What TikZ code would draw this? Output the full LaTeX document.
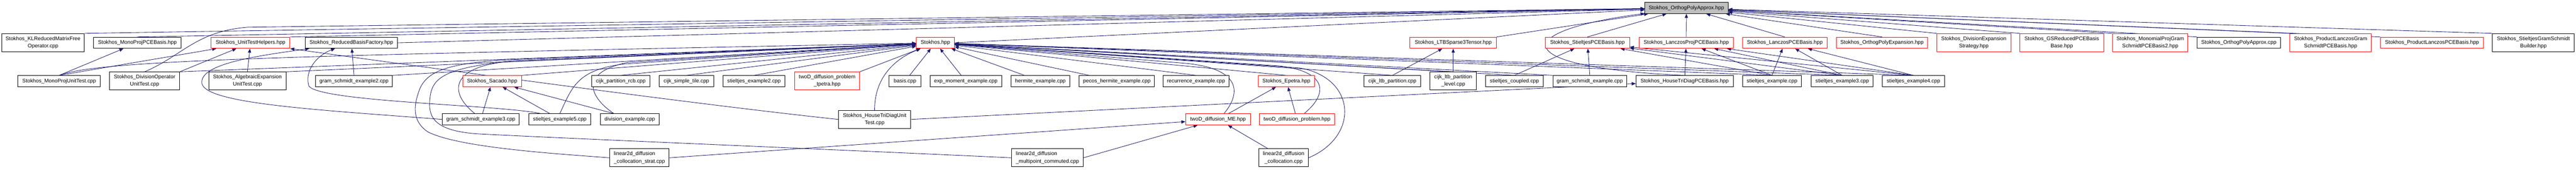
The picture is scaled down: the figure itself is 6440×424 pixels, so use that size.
\documentclass[tikz,border=0pt]{standalone}
\usepackage{fontspec}
\setmainfont{Liberation Sans}
\usetikzlibrary{arrows.meta,backgrounds}
\definecolor{edgeblue}{HTML}{191970}
\tikzstyle{srcfile}=[draw=black, fill=white, line width=1.2pt, inner sep=0pt, minimum height=28pt, align=center, font=\fontsize{13.2}{18.3}\selectfont]
\tikzstyle{hdrfile}=[srcfile, draw=red]
\tikzstyle{mainfile}=[srcfile, fill=black!25]
\tikzstyle{twoline}=[minimum height=45pt]
\tikzstyle{incl}=[draw=edgeblue, line width=1.1pt]
\tikzstyle{every edge}=[incl]

\begin{document}
\begin{tikzpicture}[->, >={Triangle[length=10pt,width=8pt]}, x=1pt, y=-1pt]
  \useasboundingbox (0,0) rectangle (6440,424);

  \node[mainfile, minimum width=208] (opa) at (4216,20) {Stokhos\_OrthogPolyApprox.hpp};

  % headers and sources that include it
  \node[srcfile, twoline, minimum width=207] (klop) at (107.5,106.5) {Stokhos\_KLReducedMatrixFree\\Operator.cpp};
  \node[srcfile, minimum width=219] (mppce) at (343.5,107) {Stokhos\_MonoProjPCEBasis.hpp};
  \node[hdrfile, minimum width=197] (uth) at (626.5,107) {Stokhos\_UnitTestHelpers.hpp};
  \node[srcfile, minimum width=231] (rbf) at (878.5,107) {Stokhos\_ReducedBasisFactory.hpp};
  \node[hdrfile, minimum width=95] (stokhos) at (2338.5,107) {Stokhos.hpp};
  \node[hdrfile, minimum width=216] (ltb) at (3633,107) {Stokhos\_LTBSparse3Tensor.hpp};
  \node[hdrfile, minimum width=211] (stpce) at (3968.5,107) {Stokhos\_StieltjesPCEBasis.hpp};
  \node[hdrfile, minimum width=235] (lpp) at (4215.5,107) {Stokhos\_LanczosProjPCEBasis.hpp};
  \node[hdrfile, minimum width=212] (lpce) at (4462,107) {Stokhos\_LanczosPCEBasis.hpp};
  \node[hdrfile, minimum width=228] (ope) at (4705,107) {Stokhos\_OrthogPolyExpansion.hpp};
  \node[hdrfile, twoline, minimum width=185] (des) at (4934.5,106.5) {Stokhos\_DivisionExpansion\\Strategy.hpp};
  \node[hdrfile, twoline, minimum width=209] (gsr) at (5154.5,106.5) {Stokhos\_GSReducedPCEBasis\\Base.hpp};
  \node[hdrfile, twoline, minimum width=189] (mpgs) at (5375.5,106.5) {Stokhos\_MonomialProjGram\\SchmidtPCEBasis2.hpp};
  \node[srcfile, minimum width=208] (opacpp) at (5597,107) {Stokhos\_OrthogPolyApprox.cpp};
  \node[hdrfile, twoline, minimum width=203] (plgs) at (5826.5,106.5) {Stokhos\_ProductLanczosGram\\SchmidtPCEBasis.hpp};
  \node[hdrfile, minimum width=258] (plpce) at (6080,107) {Stokhos\_ProductLanczosPCEBasis.hpp};
  \node[srcfile, twoline, minimum width=205] (sgsb) at (6333.5,106.5) {Stokhos\_StieltjesGramSchmidt\\Builder.hpp};

  % third row
  \node[srcfile, minimum width=206] (mput) at (148,203) {Stokhos\_MonoProjUnitTest.cpp};
  \node[srcfile, twoline, minimum width=175] (divut) at (361.5,202.5) {Stokhos\_DivisionOperator\\UnitTest.cpp};
  \node[srcfile, twoline, minimum width=193] (algut) at (618.5,202.5) {Stokhos\_AlgebraicExpansion\\UnitTest.cpp};
  \node[srcfile, minimum width=192] (gse2) at (885,203) {gram\_schmidt\_example2.cpp};
  \node[hdrfile, minimum width=147] (sacado) at (1230.5,203) {Stokhos\_Sacado.hpp};
  \node[srcfile, minimum width=146] (cprcb) at (1552,203) {cijk\_partition\_rcb.cpp};
  \node[srcfile, minimum width=136] (cst) at (1716,203) {cijk\_simple\_tile.cpp};
  \node[srcfile, minimum width=154] (se2) at (1885,203) {stieltjes\_example2.cpp};
  \node[hdrfile, twoline, minimum width=162] (tdpt) at (2068,202.5) {twoD\_diffusion\_problem\\\_tpetra.hpp};
  \node[srcfile, minimum width=79] (basis) at (2262.5,203) {basis.cpp};
  \node[srcfile, minimum width=179] (expm) at (2414.5,203) {exp\_moment\_example.cpp};
  \node[srcfile, minimum width=146] (herm) at (2601,203) {hermite\_example.cpp};
  \node[srcfile, minimum width=188] (pecos) at (2792,203) {pecos\_hermite\_example.cpp};
  \node[srcfile, minimum width=164] (recur) at (2990,203) {recurrence\_example.cpp};
  \node[hdrfile, minimum width=140] (epetra) at (3216,203) {Stokhos\_Epetra.hpp};
  \node[srcfile, minimum width=142] (cltb) at (3481,203) {cijk\_ltb\_partition.cpp};
  \node[srcfile, twoline, minimum width=116] (cltbl) at (3633,202.5) {cijk\_ltb\_partition\\\_level.cpp};
  \node[srcfile, minimum width=144] (scoup) at (3786,203) {stieltjes\_coupled.cpp};
  \node[srcfile, minimum width=185] (gse) at (3974.5,203) {gram\_schmidt\_example.cpp};
  \node[srcfile, minimum width=243] (htpce) at (4211.5,203) {Stokhos\_HouseTriDiagPCEBasis.hpp};
  \node[srcfile, minimum width=148] (se1) at (4430,203) {stieltjes\_example.cpp};
  \node[srcfile, minimum width=155] (se3) at (4605.5,203) {stieltjes\_example3.cpp};
  \node[srcfile, minimum width=155] (se4) at (4783.5,203) {stieltjes\_example4.cpp};

  % fourth row
  \node[srcfile, minimum width=192] (gse3) at (1202,298.5) {gram\_schmidt\_example3.cpp};
  \node[srcfile, minimum width=155] (se5) at (1399.5,298.5) {stieltjes\_example5.cpp};
  \node[srcfile, minimum width=147] (divex) at (1574.5,298.5) {division\_example.cpp};
  \node[srcfile, twoline, minimum width=181] (htut) at (2186.5,298.5) {Stokhos\_HouseTriDiagUnit\\Test.cpp};
  \node[hdrfile, minimum width=162] (tdme) at (3045,298.5) {twoD\_diffusion\_ME.hpp};
  \node[hdrfile, minimum width=187] (tdprob) at (3242.5,298.5) {twoD\_diffusion\_problem.hpp};

  % bottom row
  \node[srcfile, twoline, minimum width=149, align=left] (l2cs) at (1598.5,394.5) {linear2d\_diffusion\\\_collocation\_strat.cpp};
  \node[srcfile, twoline, minimum width=179, align=left] (l2mc) at (2618.5,394.5) {linear2d\_diffusion\\\_multipoint\_commuted.cpp};
  \node[srcfile, twoline, minimum width=124] (l2c) at (3209,394.5) {linear2d\_diffusion\\\_collocation.cpp};

  \begin{scope}[on background layer]
    % into Stokhos_OrthogPolyApprox.hpp
    \path (klop.north east) edge (opa);
    \path (mppce.north) edge (opa);
    \path (uth.north east) edge (opa);
    \path (rbf.east) edge (opa);
    \path (stokhos.east) edge (opa);
    \path (ltb.north east) edge (opa);
    \path (stpce.north) edge (opa);
    \path (lpp) edge (opa);
    \path (lpce.north) edge (opa);
    \path (ope.north) edge (opa);
    \path (des.north west) edge (opa);
    \path (gsr.north west) edge (opa);
    \path (mpgs.north west) edge (opa);
    \path (opacpp.north west) edge (opa);
    \path (plgs.north west) edge (opa);
    \path (plpce.north west) edge (opa);
    \path (sgsb.north west) edge (opa);
    \draw[incl] (divut.north) .. controls (455,140) and (490,78) .. (620,68) -- (opa);
    \draw[incl] (htpce.north) .. controls (3780,170) and (3760,80) .. (opa);

    % unit tests
    \path (mput.north) edge (mppce) edge (uth);
    \draw[incl] (mput.north) .. controls (250,150) and (700,140) .. (stokhos);
    \path (divut.north east) edge (uth) edge (stokhos);
    \path (algut.north) edge (uth);
    \path (algut.north east) edge (stokhos);
    \draw[incl] (htut.west) .. controls (1750,262) and (1150,180) .. (uth.south east);
    \draw[incl] (htut.north) .. controls (2186,200) and (2230,150) .. (stokhos);
    \path (htut.east) edge (htpce);

    % examples on the left
    \path (gse2.north) edge (rbf);
    \path (gse2.north east) edge (stokhos);
    \path (sacado.north east) edge (stokhos);
    \path (gse3) edge (sacado);
    \draw[incl] (gse3.west) .. controls (800,275) and (520,260) .. (505,210) .. controls (495,160) and (640,140) .. (rbf);
    \draw[incl] ([xshift=-15]gse3.north) .. controls (1120,230) and (1130,170) .. (1260,155) -- (stokhos);
    \path ([xshift=-25]se5.north) edge (sacado);
    \draw[incl] ([xshift=-48]se5.north) .. controls (1250,262) and (800,255) .. (772,215) .. controls (760,170) and (800,135) .. (rbf);
    \draw[incl] (se5.north) .. controls (1430,220) and (1440,175) .. (1560,160) -- (stokhos);
    \path ([xshift=-40]divex.north) edge (sacado);
    \draw[incl] ([xshift=-40]divex.north) .. controls (1470,240) and (1450,180) .. (1570,156) -- (stokhos);
    \path (cprcb.north) edge (stokhos);
    \path (cst.north) edge (stokhos);
    \path (se2.north) edge (stokhos);
    \path (tdpt.north east) edge (stokhos);
    \path (basis) edge (stokhos);
    \path (expm) edge (stokhos);
    \path (herm) edge (stokhos);
    \path (pecos) edge (stokhos);

    % linear2d drivers
    \draw[incl] (l2cs.west) .. controls (1400,385) and (1150,370) .. (1070,330) .. controls (1040,310) and (1030,280) .. (1045,235) .. controls (1060,180) and (1110,160) .. (1260,150) -- (stokhos);
    \path (l2cs.east) edge (tdme);
    \draw[incl] (l2mc.west) .. controls (2000,370) and (1500,350) .. (1200,335) .. controls (1080,328) and (1070,290) .. (1075,245) .. controls (1080,190) and (1120,170) .. (1280,152) -- (stokhos);
    \path (l2mc.east) edge (tdme);
    \path (l2c) edge (tdme);
    \draw[incl] (l2c.east) .. controls (3400,340) and (3390,195) .. (3250,170) -- (stokhos);

    % twoD diffusion and Epetra
    \path (tdme) edge (epetra);
    \path (tdprob) edge (epetra);
    \draw[incl] ([xshift=15]tdme.north) .. controls (3105,230) and (3100,170) .. (2960,158) -- (stokhos);
    \draw[incl] ([xshift=18]tdprob.north) .. controls (3320,235) and (3320,180) .. (3200,165) -- (stokhos);
    \path (epetra.north) edge (stokhos);
    \path (recur.north) edge (stokhos);

    % examples on the right
    \path (cltb.north) edge (stokhos) edge (ltb);
    \path (cltbl.north) edge (stokhos) edge (ltb);
    \path (scoup.north) edge (stokhos) edge (stpce);
    \path (gse.north west) edge (stokhos);
    \path (gse.north) edge (stpce);
    \path (htpce) edge (lpp);
    \path (se1.north) edge (stokhos) edge (stpce) edge (lpp) edge (lpce);
    \path (se3.north) edge (stokhos) edge (stpce) edge (lpp) edge (lpce);
    \path (se4.north) edge (stokhos) edge (stpce) edge (lpp) edge (lpce);
  \end{scope}
\end{tikzpicture}
\end{document}
